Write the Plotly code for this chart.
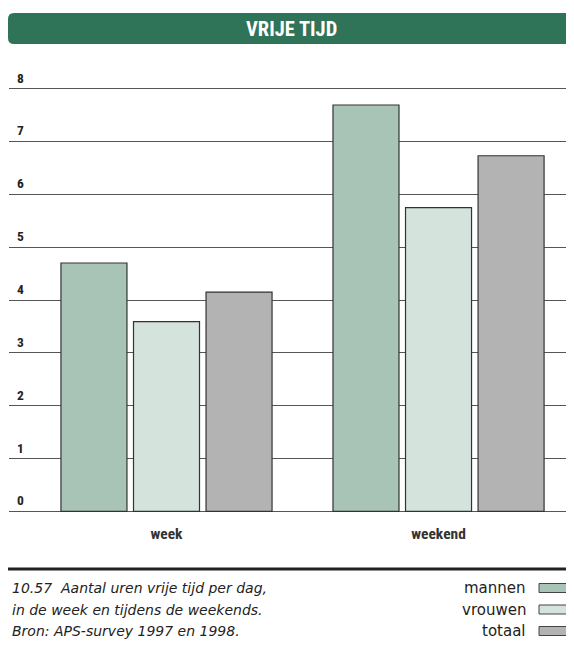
import plotly.graph_objects as go

# ---- data ----
categories = ["week", "weekend"]
series_names = ["mannen", "vrouwen", "totaal"]
mannen = [4.70, 7.69]
vrouwen = [3.59, 5.75]
totaal = [4.15, 6.73]
series_values = [mannen, vrouwen, totaal]
series_colors = ["#a8c4b6", "#d5e3dd", "#b3b3b3"]
y_ticks = [0, 1, 2, 3, 4, 5, 6, 7, 8]
title_text = "VRIJE TIJD"
caption_lines = [
    "10.57  Aantal uren vrije tijd per dag,",
    "in de week en tijdens de weekends.",
    "Bron: APS-survey 1997 en 1998.",
]

# page body has an 8px margin, so the figure is placed at (8, 8)
W, H = 566, 632
ML, MR, MT, MB = 1, 0, 78, 126
PW, PH = W - ML - MR, H - MT - MB


def px(x):
    return (x - ML) / PW


def py(y):
    return (H - MB - y) / PH


COND = "Liberation Sans Narrow, Roboto Condensed, Arial Narrow, Liberation Sans, sans-serif"
SANS = "DejaVu Sans, Liberation Sans, Arial, sans-serif"

fig = go.Figure()
for name, vals, col in zip(series_names, series_values, series_colors):
    fig.add_trace(go.Bar(
        x=categories, y=vals, name=name,
        marker=dict(color=col, line=dict(color="#333333", width=1.2)),
        showlegend=False,
    ))

shapes = []
annotations = []

# title bar (rounded rectangle)
x0, x1, y0, y1, r = 0, 565, 5, 36, 6
path = (
    f"M {px(x0 + r)} {py(y0)} L {px(x1 - r)} {py(y0)} "
    f"Q {px(x1)} {py(y0)} {px(x1)} {py(y0 + r)} L {px(x1)} {py(y1 - r)} "
    f"Q {px(x1)} {py(y1)} {px(x1 - r)} {py(y1)} L {px(x0 + r)} {py(y1)} "
    f"Q {px(x0)} {py(y1)} {px(x0)} {py(y1 - r)} L {px(x0)} {py(y0 + r)} "
    f"Q {px(x0)} {py(y0)} {px(x0 + r)} {py(y0)} Z"
)
shapes.append(dict(type="path", xref="paper", yref="paper", path=path,
                   fillcolor="#2f7358", line=dict(width=0), layer="above"))
annotations.append(dict(x=px(283.5), y=py(21), xref="paper", yref="paper",
                        text=f"<b>{title_text}</b>", showarrow=False,
                        font=dict(family=COND, size=20.5, color="white"),
                        xanchor="center", yanchor="middle"))

# y tick labels above grid lines
for t in y_ticks:
    annotations.append(dict(x=px(7), y=t, xref="paper", yref="y",
                            text=f"<b>{t}</b>", showarrow=False, yshift=1,
                            font=dict(family=COND, size=13.5, color="#222222"),
                            xanchor="left", yanchor="bottom"))

# bottom rule
shapes.append(dict(type="line", xref="paper", yref="paper",
                   x0=px(0), x1=px(566), y0=py(561), y1=py(561),
                   line=dict(color="#222222", width=3)))

row_y = [580, 601.5, 623]

# caption
for line, yc in zip(caption_lines, row_y):
    annotations.append(dict(x=px(2), y=py(yc), xref="paper", yref="paper",
                            text=f"<i>{line}</i>", showarrow=False,
                            font=dict(family=SANS, size=14, color="#222222"),
                            xanchor="left", yanchor="middle"))

# legend
for name, col, yc in zip(series_names, series_colors, row_y):
    annotations.append(dict(x=px(520), y=py(yc), xref="paper", yref="paper",
                            text=name, showarrow=False,
                            font=dict(family=SANS, size=15, color="#222222"),
                            xanchor="right", yanchor="middle"))
    shapes.append(dict(type="rect", xref="paper", yref="paper",
                       x0=px(531), x1=px(564), y0=py(yc - 4.5), y1=py(yc + 4.5),
                       fillcolor=col, line=dict(color="#444444", width=1)))

fig.update_layout(
    width=W, height=H,
    margin=dict(l=ML, r=MR, t=MT, b=MB, pad=0),
    paper_bgcolor="white", plot_bgcolor="white",
    bargap=0.2, bargroupgap=0.09, barmode="group",
    shapes=shapes, annotations=annotations,
    xaxis=dict(range=[-0.579, 1.498], showgrid=False, zeroline=False,
               showline=False, ticks="", tickmode="array",
               tickvals=categories, ticktext=[f"<b>{c}</b>" for c in categories],
               tickfont=dict(family=COND, size=15.5, color="#333333"),
               ticklabelstandoff=8, fixedrange=True),
    yaxis=dict(range=[-0.05, 8.05], tickvals=y_ticks, showticklabels=False,
               showgrid=True, gridcolor="#555555", gridwidth=1.3,
               zeroline=False, showline=False, fixedrange=True),
)

fig.write_html("out.html")
